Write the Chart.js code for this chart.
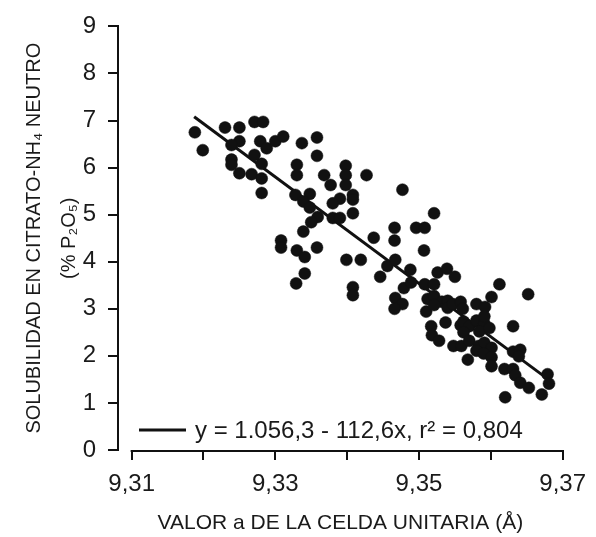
<!DOCTYPE html>
<html>
<head>
<meta charset="utf-8">
<script src="https://cdn.jsdelivr.net/npm/chart.js@4/dist/chart.umd.min.js"></script>
<style>
html,body{margin:0;padding:0;background:#fff;}
#wrap{width:596px;height:537px;}
</style>
</head>
<body>
<div id="wrap"><canvas id="c" width="596" height="537"></canvas></div>
<script>
// ---- data ----
const cellA = [
  9.3188, 9.3199, 9.3230, 9.3250, 9.3271, 9.3283, 9.3250, 9.3239, 9.3279, 9.3288,
  9.3300, 9.3311, 9.3337, 9.3358, 9.3358, 9.3271, 9.3281, 9.3239, 9.3239, 9.3250,
  9.3267, 9.3281, 9.3281, 9.3330, 9.3330, 9.3368, 9.3377, 9.3398, 9.3398, 9.3398,
  9.3408, 9.3408, 9.3390, 9.3380, 9.3328, 9.3348, 9.3339, 9.3348, 9.3408, 9.3359,
  9.3350, 9.3380, 9.3390, 9.3339, 9.3427, 9.3477, 9.3521, 9.3437, 9.3466, 9.3466,
  9.3496, 9.3508, 9.3507, 9.3308, 9.3308, 9.3330, 9.3341, 9.3358, 9.3399, 9.3419,
  9.3341, 9.3329, 9.3408, 9.3408, 9.3456, 9.3467, 9.3446, 9.3488, 9.3526, 9.3539,
  9.3550, 9.3479, 9.3489, 9.3508, 9.3521, 9.3467, 9.3477, 9.3466, 9.3510, 9.3512,
  9.3521, 9.3532, 9.3521, 9.3540, 9.3540, 9.3547, 9.3558, 9.3561, 9.3580, 9.3592,
  9.3601, 9.3612, 9.3652, 9.3537, 9.3517, 9.3518, 9.3528, 9.3558, 9.3562, 9.3570,
  9.3562, 9.3580, 9.3591, 9.3584, 9.3598, 9.3591, 9.3631, 9.3548, 9.3559, 9.3570,
  9.3583, 9.3591, 9.3601, 9.3568, 9.3580, 9.3590, 9.3601, 9.3601, 9.3631, 9.3641,
  9.3639, 9.3619, 9.3631, 9.3634, 9.3641, 9.3653, 9.3679, 9.3681, 9.3671, 9.3620
];
const solubility = [
  6.75, 6.37, 6.85, 6.85, 6.97, 6.97, 6.56, 6.48, 6.56, 6.41,
  6.56, 6.66, 6.52, 6.64, 6.25, 6.27, 6.08, 6.17, 6.06, 5.88,
  5.86, 5.77, 5.46, 6.06, 5.84, 5.84, 5.63, 6.04, 5.84, 5.63,
  5.42, 5.32, 5.34, 5.24, 5.42, 5.44, 5.28, 5.15, 5.03, 4.95,
  4.84, 4.93, 4.93, 4.64, 5.84, 5.53, 5.03, 4.51, 4.72, 4.45,
  4.72, 4.72, 4.24, 4.45, 4.30, 4.24, 4.10, 4.30, 4.04, 4.04,
  3.75, 3.54, 3.46, 3.29, 3.91, 4.04, 3.68, 3.83, 3.77, 3.85,
  3.68, 3.44, 3.56, 3.52, 3.52, 3.23, 3.10, 3.00, 2.94, 3.21,
  3.27, 3.15, 3.08, 3.17, 3.02, 3.10, 3.15, 3.00, 3.10, 3.04,
  3.25, 3.52, 3.31, 2.71, 2.63, 2.44, 2.32, 2.65, 2.73, 2.63,
  2.50, 2.75, 2.69, 2.52, 2.59, 2.84, 2.63, 2.21, 2.21, 2.32,
  2.21, 2.28, 2.17, 1.92, 2.11, 2.05, 1.97, 1.78, 2.09, 2.13,
  1.99, 1.72, 1.72, 1.59, 1.43, 1.32, 1.61, 1.41, 1.18, 1.12
];
// regression line end points
const fitX = [9.3187, 9.3672];
const fitY = [7.08, 1.59];
const fitLabel = 'y = 1.056,3 - 112,6x, r\u00B2 = 0,804';

const xTicks = [9.31, 9.32, 9.33, 9.34, 9.35, 9.36, 9.37];
const xTickLabels = ['9,31', '', '9,33', '', '9,35', '', '9,37'];
const yTicks = [0, 1, 2, 3, 4, 5, 6, 7, 8, 9];

const xTitle = 'VALOR a DE LA CELDA UNITARIA (\u00C5)';
const yTitle = ['SOLUBILIDAD EN CITRATO-NH\u2084 NEUTRO', '(% P\u2082O\u2085)'];

// ---- chart ----
const FONT = "'Liberation Sans', Arial, Helvetica, sans-serif";
const INK = '#111111';
const TXT = '#1a1a1a';

const decor = {
  id: 'decor',
  afterDraw(chart) {
    const {ctx, chartArea, scales} = chart;
    const x = scales.x;
    ctx.save();
    // x axis line only across the tick range
    ctx.strokeStyle = INK;
    ctx.lineWidth = 2;
    ctx.beginPath();
    ctx.moveTo(x.getPixelForValue(xTicks[0]) - 1, chartArea.bottom + 1);
    ctx.lineTo(x.getPixelForValue(xTicks[xTicks.length - 1]) + 1, chartArea.bottom + 1);
    ctx.stroke();
    // legend inside plot, bottom-left
    const ly = chartArea.bottom - 20;
    const lx0 = chartArea.left + 21;
    ctx.lineWidth = 3;
    ctx.beginPath();
    ctx.moveTo(lx0, ly);
    ctx.lineTo(lx0 + 47, ly);
    ctx.stroke();
    ctx.fillStyle = TXT;
    ctx.font = '24px ' + FONT;
    ctx.textBaseline = 'middle';
    ctx.textAlign = 'left';
    ctx.fillText(chart.data.datasets[1].label, lx0 + 56, ly + 1);
    ctx.restore();
  }
};

new Chart(document.getElementById('c'), {
  type: 'scatter',
  data: {
    datasets: [
      {
        label: 'datos',
        data: cellA.map((v, i) => ({x: v, y: solubility[i]})),
        pointRadius: 6,
        pointBackgroundColor: INK,
        pointBorderColor: INK,
        pointBorderWidth: 0.5,
        showLine: false
      },
      {
        label: fitLabel,
        data: fitX.map((v, i) => ({x: v, y: fitY[i]})),
        showLine: true,
        borderColor: INK,
        borderWidth: 3,
        pointRadius: 0,
        fill: false
      }
    ]
  },
  options: {
    responsive: false,
    animation: false,
    devicePixelRatio: 1,
    layout: {padding: {top: 15, right: 29, bottom: 0, left: 0}},
    plugins: {legend: {display: false}, tooltip: {enabled: false}},
    scales: {
      x: {
        type: 'linear',
        min: 9.3081,
        max: 9.37,
        afterBuildTicks: s => { s.ticks = xTicks.map(v => ({value: v})); },
        afterFit: s => { s.height = 87; },
        ticks: {
          autoSkip: false,
          maxRotation: 0,
          padding: 10,
          color: TXT,
          font: {family: FONT, size: 24},
          callback: (v, i) => xTickLabels[i]
        },
        grid: {drawOnChartArea: false, drawTicks: true, tickLength: 10, color: INK, lineWidth: 2},
        border: {display: false},
        title: {
          display: true,
          text: xTitle,
          color: TXT,
          font: {family: FONT, size: 21},
          padding: {top: 0, bottom: 1}
        }
      },
      y: {
        type: 'linear',
        min: 0,
        max: 9,
        afterBuildTicks: s => { s.ticks = yTicks.map(v => ({value: v})); },
        afterFit: s => { s.width = 118; },
        ticks: {
          autoSkip: false,
          padding: 12,
          color: TXT,
          font: {family: FONT, size: 24},
          callback: v => String(v)
        },
        grid: {drawOnChartArea: false, drawTicks: true, tickLength: 10, color: INK, lineWidth: 2},
        border: {display: true, color: INK, width: 2},
        title: {
          display: true,
          text: yTitle,
          color: TXT,
          font: {family: FONT, size: 20, lineHeight: 1.75},
          padding: {top: 17, bottom: 0}
        }
      }
    }
  },
  plugins: [decor]
});
</script>
</body>
</html>
